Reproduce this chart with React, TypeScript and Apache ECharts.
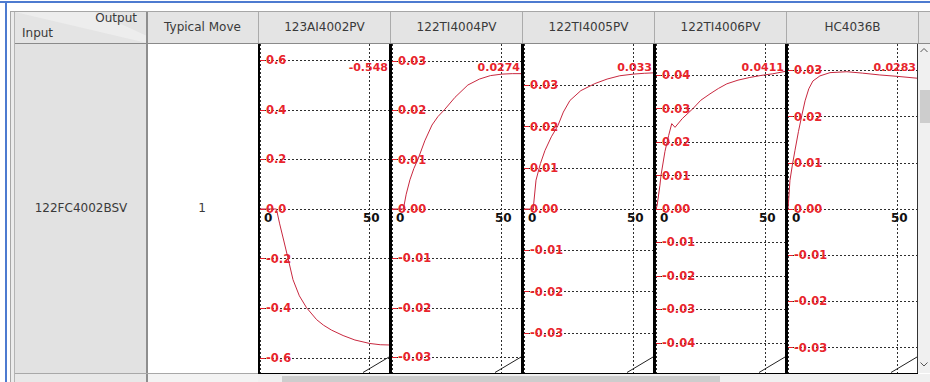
import React, { useEffect, useRef } from 'react';
import * as echarts from 'echarts';

// ---------- data ----------
const inputVariable = '122FC4002BSV';
const typicalMove = '1';
const outputVariables = ['123AI4002PV', '122TI4004PV', '122TI4005PV', '122TI4006PV', 'HC4036B'];
const steadyStateGains = ['-0.548', '0.0274', '0.033', '0.0411', '0.0283'];

const xTickValues = [0, 50];
const xMax = 59;

const yLimits = [0.665, 0.0334, 0.04, 0.0493, 0.0357];
const yTicks123AI4002PV = [-0.6, -0.4, -0.2, 0, 0.2, 0.4, 0.6];
const yTicks122TI4004PV = [-0.03, -0.02, -0.01, 0, 0.01, 0.02, 0.03];
const yTicks122TI4005PV = [-0.03, -0.02, -0.01, 0, 0.01, 0.02, 0.03];
const yTicks122TI4006PV = [-0.04, -0.03, -0.02, -0.01, 0, 0.01, 0.02, 0.03, 0.04];
const yTicksHC4036B = [-0.03, -0.02, -0.01, 0, 0.01, 0.02, 0.03];
const yTickDecimals = [1, 2, 2, 2, 2];

const response123AI4002PV: [number, number][] = [
  [0, 0], [4, 0], [7.5, 0], [9, -0.06], [10.8, -0.125], [12.8, -0.198], [15.1, -0.285],
  [18, -0.35], [21.3, -0.398], [25.9, -0.446], [29, -0.468], [32.7, -0.488], [38, -0.51],
  [43.4, -0.528], [50.2, -0.542], [55, -0.547], [59, -0.548],
];
const response122TI4004PV: [number, number][] = [
  [0, 0], [3, 0], [5.2, 0], [6.5, 0.003], [8.2, 0.0059], [10, 0.0082], [11.9, 0.0101],
  [15, 0.0138], [18.3, 0.017], [21, 0.0187], [24.2, 0.0202], [28.8, 0.0226], [34.7, 0.0251],
  [40, 0.0263], [45, 0.027], [50.2, 0.0273], [55, 0.0274], [59, 0.0274],
];
const response122TI4005PV: [number, number][] = [
  [0, 0], [2, 0], [4.2, 0], [5.5, 0.007], [7.5, 0.011], [9.6, 0.0142], [12.5, 0.0175],
  [15.5, 0.0202], [18, 0.0235], [21, 0.0263], [26, 0.0287], [32.4, 0.0304], [38, 0.0315],
  [43.8, 0.0323], [50, 0.0327], [55, 0.0329], [59, 0.033],
];
const response122TI4006PV: [number, number][] = [
  [0, 0], [0.5, 0.001], [1.8, 0.0071], [2.3, 0.0101], [4.1, 0.0172], [5.8, 0.022], [7.2, 0.0255],
  [8.7, 0.0244], [12, 0.027], [16.9, 0.03], [20.5, 0.0325], [24.7, 0.0344], [28.5, 0.036],
  [32.4, 0.0374], [37.5, 0.0385], [42.9, 0.0393], [48, 0.0399], [53.4, 0.0404], [59, 0.0411],
];
const responseHC4036B: [number, number][] = [
  [0, 0], [0.2, 0.0013], [0.9, 0.0062], [2, 0.0095], [3.2, 0.0127], [4.8, 0.0168], [6.3, 0.0202],
  [7.8, 0.0234], [9.5, 0.026], [11.4, 0.0277], [14.6, 0.0288], [19.2, 0.0295], [26.9, 0.0297],
  [34, 0.0294], [42, 0.029], [50, 0.0287], [59, 0.0283],
];

const yTickSets = [yTicks123AI4002PV, yTicks122TI4004PV, yTicks122TI4005PV, yTicks122TI4006PV, yTicksHC4036B];
const responses = [response123AI4002PV, response122TI4004PV, response122TI4005PV, response122TI4006PV, responseHC4036B];

// ---------- layout ----------
const FONT = '"DejaVu Sans", Verdana, sans-serif';
const PLOT_TOP = 44;
const PLOT_H = 330;
const PLOT_W = 129;
const plotLeft = (i: number) => 260 + 132 * i;

function txt(text: string, x: number, y: number, align: string, opts: any = {}) {
  return {
    type: 'text', z: 20, silent: true,
    style: {
      text, x, y,
      align, verticalAlign: 'middle', textAlign: align, textVerticalAlign: 'middle',
      fill: opts.fill || '#3a3a3a',
      font: opts.font || `12px ${FONT}`,
    },
  };
}
function rect(x: number, y: number, w: number, h: number, fill: string, z = 5) {
  return { type: 'rect', z, silent: true, shape: { x, y, width: w, height: h }, style: { fill } };
}
function line(x1: number, y1: number, x2: number, y2: number, stroke: string, z = 15, lineWidth = 1) {
  return { type: 'line', z, silent: true, shape: { x1, y1, x2, y2 }, style: { stroke, lineWidth } };
}
function poly(points: number[][], stroke: string) {
  return { type: 'polyline', z: 15, silent: true, shape: { points }, style: { stroke, lineWidth: 1, fill: 'none' } };
}

export default function App() {
  const ref = useRef<HTMLDivElement>(null);
  useEffect(() => {
    const chart = echarts.init(ref.current!, null, { renderer: 'svg' });
    const grids: any[] = [];
    const xAxes: any[] = [];
    const yAxes: any[] = [];
    const series: any[] = [];
    const graphic: any[] = [];

    const dotted = { color: '#2e2e2e', width: 1, type: [2, 2] };
    const gridLine = { show: true, lineStyle: dotted };

    outputVariables.forEach((name, i) => {
      const left = plotLeft(i);
      grids.push({ left, top: PLOT_TOP, width: PLOT_W, height: PLOT_H, containLabel: false });
      xAxes.push({
        gridIndex: i, type: 'value', min: 0, max: xMax,
        position: 'bottom', offset: -PLOT_H / 2,
        axisLine: { show: false, onZero: false },
        axisTick: { show: false, customValues: xTickValues },
        axisLabel: {
          customValues: xTickValues, color: '#111', fontFamily: FONT, fontSize: 12, fontWeight: 'bold',
          margin: 3, alignMinLabel: 'left', padding: [0, 0, 0, 4],
          formatter: (v: number) => String(v),
        },
        splitLine: gridLine,
      });
      const dec = yTickDecimals[i];
      yAxes.push({
        gridIndex: i, type: 'value', min: -yLimits[i], max: yLimits[i],
        axisLine: { show: false },
        axisTick: { show: true, inside: true, length: 5, customValues: yTickSets[i], lineStyle: { color: '#e3202c', width: 1 } },
        axisLabel: {
          inside: true, margin: 6, customValues: yTickSets[i], color: '#e8242c',
          fontFamily: FONT, fontSize: 11.5, fontWeight: 'bold',
          formatter: (v: number) => v.toFixed(dec),
        },
        splitLine: gridLine,
      });
      series.push({
        type: 'line', xAxisIndex: i, yAxisIndex: i, data: responses[i], showSymbol: false,
        lineStyle: { color: '#c8283f', width: 1 }, z: 3, clip: true,
      });
      graphic.push(txt(name, left + PLOT_W / 2, 27, 'center'));
      graphic.push(txt(steadyStateGains[i], left + PLOT_W - 1, 67, 'right', { fill: '#e8242c', font: `bold 11px ${FONT}` }));
      graphic.push(line(left + PLOT_W - 26, 372.5, left + PLOT_W, 357, '#222'));
      if (i === 0) graphic.push(rect(258, 44, 2, 330, '#000', 16));
      else graphic.push(rect(left - 3, 44, 3, 330, '#000', 16));
    });

    // chrome
    graphic.push(rect(0, 1, 930, 2, '#4d7bd0', 6));
    graphic.push(rect(5, 1, 2, 381, '#4d7bd0', 6));
    graphic.push(rect(11, 11, 3, 371, '#ececec', 4));
    graphic.push(line(10.5, 11, 10.5, 382, '#a6a6a6', 6));
    graphic.push(line(14.5, 11, 14.5, 382, '#b4b4b4', 6));
    graphic.push(rect(15, 12, 915, 31, '#e4e4e4', 4));
    graphic.push({ type: 'polygon', z: 5, silent: true, shape: { points: [[15, 12], [95, 12], [147, 36], [147, 43], [15, 12]] }, style: { fill: '#ededed' } });
    graphic.push(line(10, 11.5, 930, 11.5, '#a6a6a6', 6));
    [258.5, 390.5, 522.5, 654.5, 786.5, 918.5].forEach((x) => graphic.push(line(x, 12, x, 43, '#ababab', 6)));
    graphic.push(line(15, 43.5, 930, 43.5, '#8a8a8a', 6));
    graphic.push(rect(15, 44, 131, 329, '#e2e2e2', 4));
    graphic.push(rect(146, 12, 2, 370, '#8e8e8e', 6));
    graphic.push(line(15, 373.5, 258, 373.5, '#a8a8a8', 6));
    graphic.push(rect(15, 374, 131, 8, '#e8e8e8', 4));
    graphic.push(rect(148, 374, 110, 8, '#f3f3f3', 4));
    graphic.push(rect(917, 44, 1, 330, '#333', 16));
    graphic.push(rect(258, 373, 660, 1, '#000', 16));
    // horizontal scrollbar
    graphic.push(rect(258, 374, 672, 8, '#f0f0f0', 17));
    graphic.push(rect(282, 376, 438, 6, '#cdcdcd', 18));
    graphic.push(poly([[271, 376.5], [267, 379], [271, 381.5]], '#555'));
    graphic.push(poly([[906, 376.5], [910, 379], [906, 381.5]], '#555'));
    // vertical scrollbar
    graphic.push(rect(918, 44, 12, 329, '#f0f0f0', 4));
    graphic.push(rect(920, 90, 10, 33, '#cdcdcd', 5));
    graphic.push(poly([[920.5, 52], [924, 48.5], [927.5, 52]], '#555'));
    graphic.push(poly([[920.5, 362.5], [924, 366], [927.5, 362.5]], '#555'));

    graphic.push(txt('Output', 137, 18, 'right'));
    graphic.push(txt('Input', 22, 33, 'left'));
    graphic.push(txt('Typical Move', 202.5, 27, 'center'));
    graphic.push(txt(inputVariable, 81, 208, 'center'));
    graphic.push(txt(typicalMove, 202, 208, 'center'));

    chart.setOption({
      animation: false,
      grid: grids,
      xAxis: xAxes,
      yAxis: yAxes,
      series,
      graphic,
    });
    return () => chart.dispose();
  }, []);
  return <div ref={ref} style={{ position: 'fixed', left: 0, top: 0, width: 930, height: 382, background: '#fff' }} />;
}
